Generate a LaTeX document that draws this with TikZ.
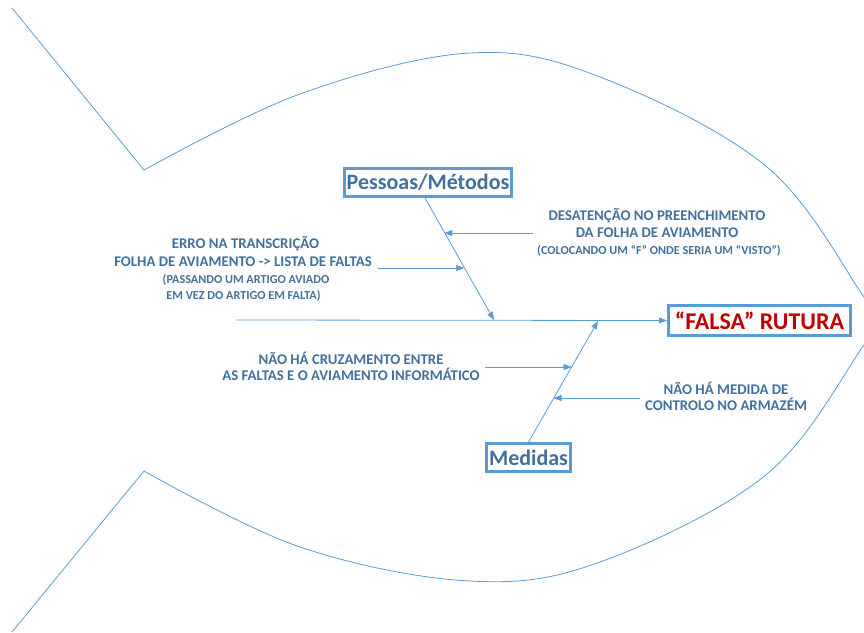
\documentclass[tikz,border=0pt]{standalone}
\usepackage{fontspec}
\setmainfont{Carlito}
\usetikzlibrary{arrows.meta,calc}
\definecolor{lineblue}{RGB}{91,155,213}
\definecolor{txtblue}{RGB}{65,113,156}
\definecolor{darkred}{RGB}{192,0,0}
\begin{document}
\begin{tikzpicture}[x=1pt,y=-1pt,
  fish/.style={draw=lineblue, line width=0.8pt},
  conn/.style={draw=lineblue, line width=0.8pt, -{Triangle[length=8pt,width=6pt]}},
  catbox/.style={draw=lineblue, line width=3pt, fill=white, text=txtblue,
    font=\fontsize{22}{26}\selectfont\bfseries, inner sep=0pt, minimum height=28pt},
  effbox/.style={catbox, text=darkred, font=\fontsize{24}{28}\selectfont\bfseries, minimum height=30pt},
  cause/.style={text=txtblue, font=\fontsize{14.8}{17}\selectfont\bfseries, anchor=base, inner sep=0pt},
  note/.style={text=txtblue, font=\fontsize{12.2}{14}\selectfont\bfseries, anchor=base, inner sep=0pt}]
\useasboundingbox (0,0) rectangle (864,632);
% fish outline
\begin{scope}
\clip (0,0) rectangle (864,632);
\draw[fish] (12,8) -- (144,170);
\draw[fish] (144,471) -- (12,632);
\draw[fish] plot[smooth,tension=0.6] coordinates {(144,170) (300,94) (470,53) (600,77) (767,167) (864,297) (880,322) (864,345) (767,474) (600,562) (470,581) (300,547) (144,471)};
\end{scope}
% boxes
\node[catbox, minimum width=167pt] (pes) at (428,182.5) {Pessoas/Métodos};
\node[catbox, minimum width=84pt] (med) at (528.5,457.5) {Medidas};
\node[effbox, minimum width=182pt] (fr) at (759.5,320.5) {“FALSA” RUTURA};
% spine
\coordinate (sp0) at (236,320);
\draw[conn] (sp0) -- (fr.west);
% bones
\coordinate (pstart) at ($(pes.south)+(-3,0)$);
\coordinate (pj) at (494,320);
\coordinate (mj) at (598,321);
\draw[conn] (pstart) -- (pj);
\draw[conn] (med.north) -- (mj);
% sub-cause arrows
\coordinate (d1) at ($(pstart)!0.281!(pj)$);
\coordinate (d2) at ($(pstart)!0.57!(pj)$);
\coordinate (e1) at ($(med.north)!0.62!(mj)$);
\coordinate (e2) at ($(med.north)!0.36!(mj)$);
\coordinate (c1) at (533,233);
\coordinate (c2) at (378,268);
\coordinate (c3) at (485,367);
\coordinate (c4) at (640,398);
\draw[conn] (c1) -- (c1 -| d1);
\draw[conn] (c2) -- (c2 -| d2);
\draw[conn] (c3) -- (c3 -| e1);
\draw[conn] (c4) -- (c4 -| e2);
% texts
\node[cause] (t1a) at (657,220) {DESATENÇÃO NO PREENCHIMENTO};
\node[cause] (t1b) at (657,237.5) {DA FOLHA DE AVIAMENTO};
\node[note] (t1c) at (659,254) {(COLOCANDO UM “F” ONDE SERIA UM “VISTO”)};
\node[cause] (t2a) at (245.5,248.3) {ERRO NA TRANSCRIÇÃO};
\node[cause] (t2b) at (243,266.7) {FOLHA DE AVIAMENTO -> LISTA DE FALTAS};
\node[note] (t2c) at (246,283.3) {(PASSANDO UM ARTIGO AVIADO};
\node[note] (t2d) at (243.5,299) {EM VEZ DO ARTIGO EM FALTA)};
\node[cause] (t3a) at (351,364) {NÃO HÁ CRUZAMENTO ENTRE};
\node[cause] (t3b) at (351,380) {AS FALTAS E O AVIAMENTO INFORMÁTICO};
\node[cause] (t4a) at (726,394.3) {NÃO HÁ MEDIDA DE};
\node[cause] (t4b) at (726,410) {CONTROLO NO ARMAZÉM};
\end{tikzpicture}
\end{document}
